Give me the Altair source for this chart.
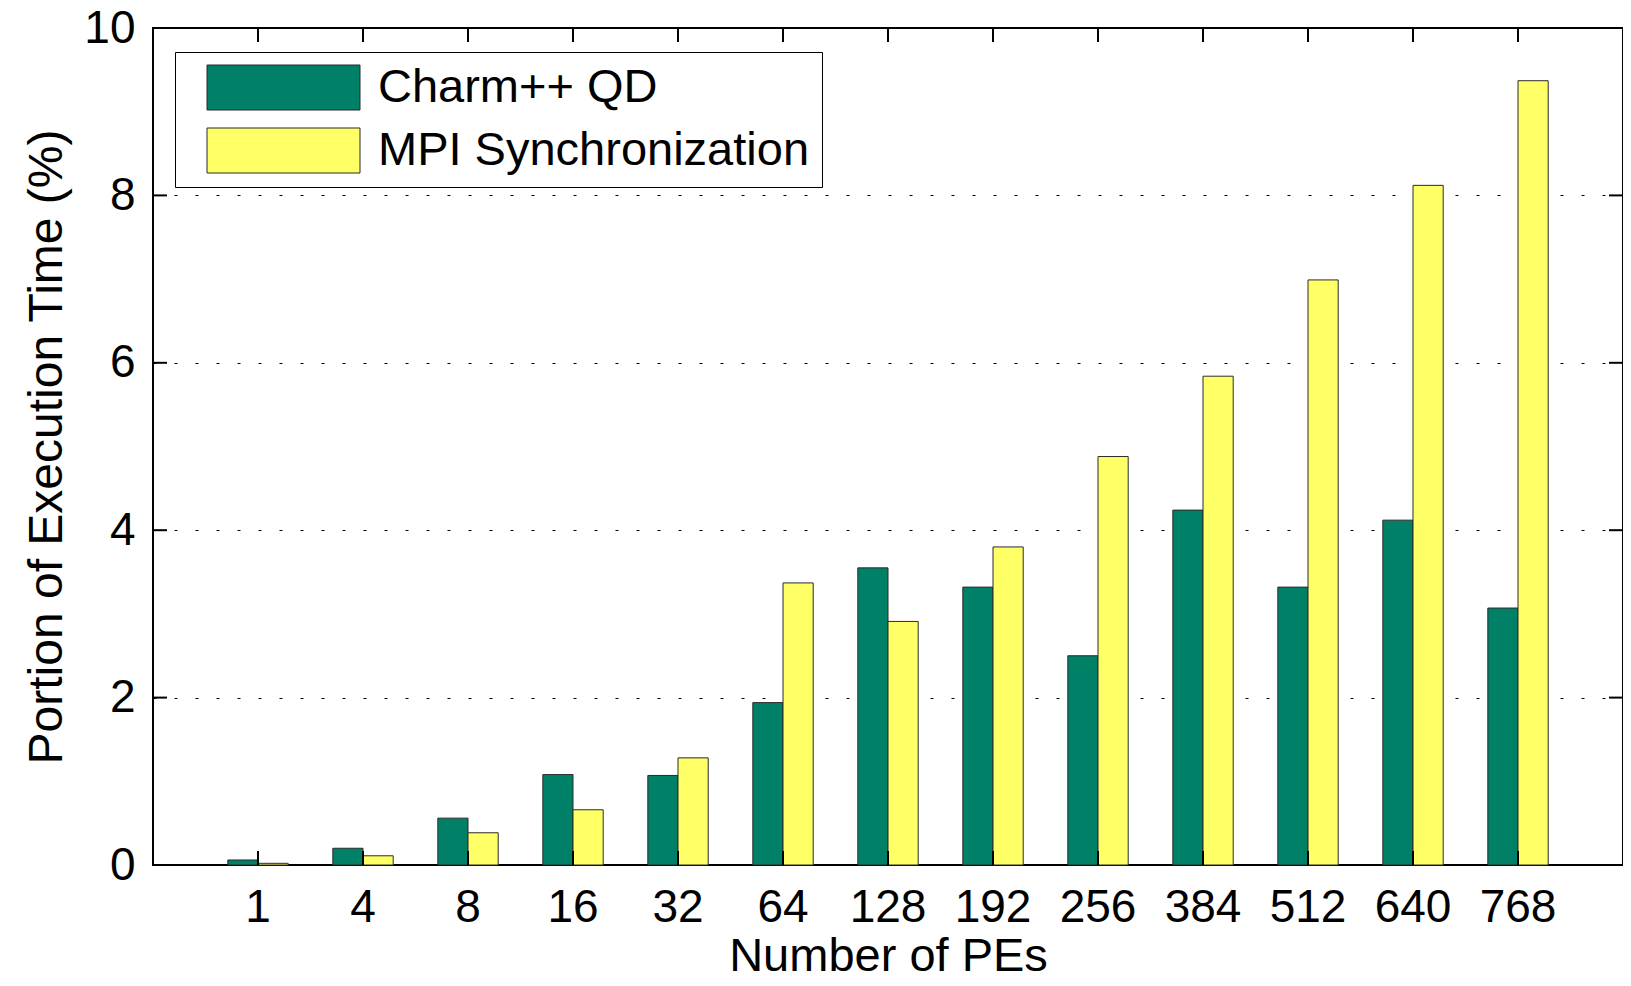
import altair as alt
import pandas as pd

pes = ["1", "4", "8", "16", "32", "64", "128", "192", "256", "384", "512", "640", "768"]
charm_qd = [0.06, 0.20, 0.56, 1.08, 1.07, 1.94, 3.55, 3.32, 2.50, 4.24, 3.32, 4.12, 3.07]
mpi_sync = [0.02, 0.11, 0.385, 0.66, 1.28, 3.37, 2.91, 3.80, 4.88, 5.84, 6.99, 8.12, 9.37]
series = ["Charm++ QD", "MPI Synchronization"]
colors = ["#008066", "#FFFF66"]
y_ticks = [0, 2, 4, 6, 8, 10]

W, H = 1470, 837
TICK = 14
FONT = "Liberation Sans"

rows = []
for i, p in enumerate(pes):
    rows.append({"PEs": p, "series": series[0], "value": charm_qd[i]})
    rows.append({"PEs": p, "series": series[1], "value": mpi_sync[i]})
df = pd.DataFrame(rows)

xscale = alt.Scale(domain=pes, paddingInner=0.425, paddingOuter=0.7125)
yscale = alt.Scale(domain=[0, 10], nice=False)

bars = alt.Chart(df).mark_bar(stroke="#2a2a2a", strokeWidth=1).encode(
    x=alt.X("PEs:N", scale=xscale, sort=pes,
            axis=alt.Axis(title="Number of PEs", labelAngle=0, labelFontSize=46,
                          titleFontSize=47, labelPadding=20, titlePadding=3,
                          grid=False)),
    xOffset=alt.XOffset("series:N", sort=series,
                        scale=alt.Scale(domain=series, paddingInner=0, paddingOuter=0)),
    y=alt.Y("value:Q", scale=yscale,
            axis=alt.Axis(title="Portion of Execution Time (%)", values=y_ticks,
                          format="d", labelFontSize=46, titleFontSize=48,
                          labelPadding=18, titlePadding=12, grid=True,
                          gridColor="black", gridDash=[3, 18], gridWidth=1.2)),
    color=alt.Color("series:N", scale=alt.Scale(domain=series, range=colors),
                    legend=alt.Legend(title=None, orient="none", legendX=22, legendY=24,
                                      symbolType="M-3.4,-1H3.4V1H-3.4Z",
                                      symbolSize=2025, symbolStrokeColor="#2a2a2a",
                                      symbolStrokeWidth=1, labelFontSize=47,
                                      labelFont=FONT, labelOffset=71, padding=12,
                                      rowPadding=14, strokeColor="black",
                                      fillColor="white", symbolOffset=73,
                                      labelLimit=0, labelColor="black")),
)

yt = pd.DataFrame({"value": y_ticks})
xt = pd.DataFrame({"PEs": pes})

left_ticks = alt.Chart(yt).mark_rule(color="black", strokeWidth=2).encode(
    y=alt.Y("value:Q", scale=yscale), x=alt.value(0), x2=alt.value(TICK))
right_ticks = alt.Chart(yt).mark_rule(color="black", strokeWidth=2).encode(
    y=alt.Y("value:Q", scale=yscale), x=alt.value(W - TICK), x2=alt.value(W))
bottom_ticks = alt.Chart(xt).mark_rule(color="black", strokeWidth=2).encode(
    x=alt.X("PEs:N", scale=xscale, sort=pes), y=alt.value(H - TICK), y2=alt.value(H))
top_ticks = alt.Chart(xt).mark_rule(color="black", strokeWidth=2).encode(
    x=alt.X("PEs:N", scale=xscale, sort=pes), y=alt.value(0), y2=alt.value(TICK))

chart = alt.layer(bars, left_ticks, right_ticks, bottom_ticks, top_ticks).properties(
    width=W, height=H,
    padding={"left": 145, "top": 20, "right": 0, "bottom": 113},
    autosize=alt.AutoSizeParams(type="none"),
).configure_view(
    stroke="black", strokeWidth=2
).configure_axis(
    labelFont=FONT, titleFont=FONT, labelColor="black", titleColor="black",
    titleFontWeight="normal", domain=False, ticks=False
)

chart.save("out.html", embed_options={"renderer": "svg", "actions": False})
